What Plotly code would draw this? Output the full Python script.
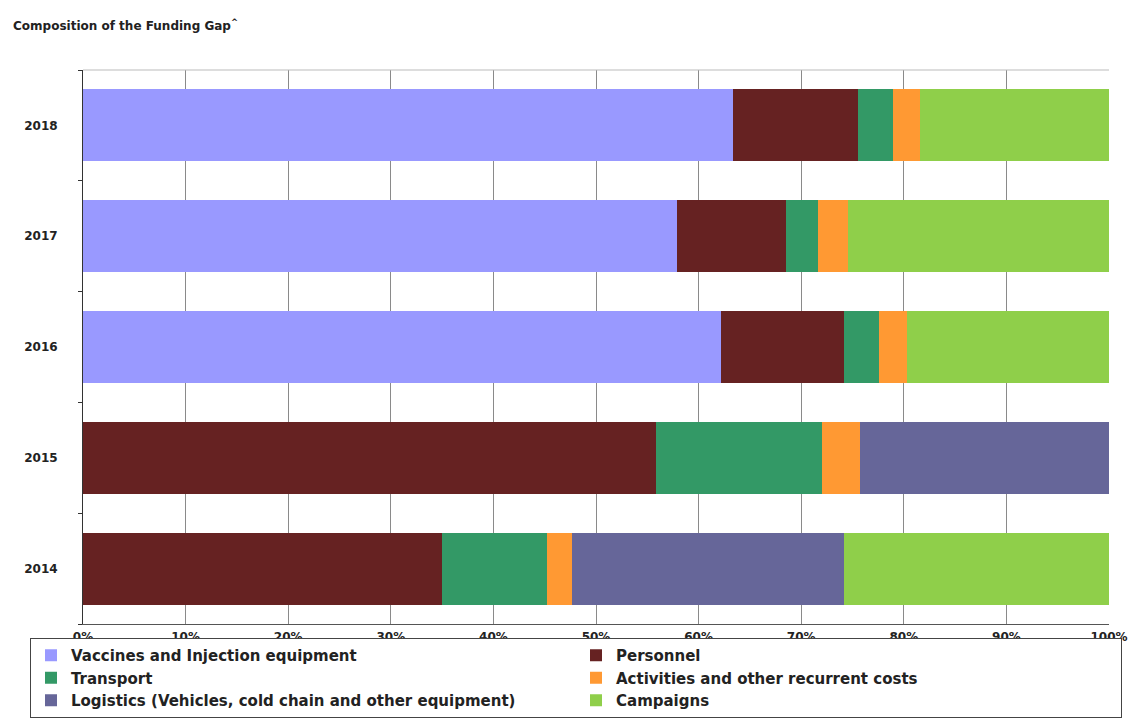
import plotly.graph_objects as go

# Funding-gap composition by year (share of total, %)
years = ["2014", "2015", "2016", "2017", "2018"]
vaccines = [0.0, 0.0, 62.2, 57.9, 63.4]
personnel = [35.0, 55.8, 12.0, 10.6, 12.1]
transport = [10.2, 16.2, 3.4, 3.1, 3.4]
activities = [2.5, 3.7, 2.7, 3.0, 2.7]
logistics = [26.5, 24.3, 0.0, 0.0, 0.0]
campaigns = [25.8, 0.0, 19.7, 25.4, 18.4]

x_ticks = [0, 10, 20, 30, 40, 50, 60, 70, 80, 90, 100]
x_tick_labels = [f"{v}%" for v in x_ticks]

series = [
    ("Vaccines and Injection equipment", vaccines, "#9999FF"),
    ("Personnel", personnel, "#662222"),
    ("Transport", transport, "#339966"),
    ("Activities and other recurrent costs", activities, "#FF9933"),
    ("Logistics (Vehicles, cold chain and other equipment)", logistics, "#666699"),
    ("Campaigns", campaigns, "#8FCF4A"),
]

FONT = "DejaVu Sans, Liberation Sans, Arial, sans-serif"
TEXT = "#222222"

fig = go.Figure()
for name, vals, color in series:
    fig.add_trace(go.Bar(
        name=name,
        y=years,
        x=vals,
        orientation="h",
        marker=dict(color=color, line=dict(width=0)),
    ))

W, H = 1141, 726
L, R, T, B = 83, 32, 70, 102

fig.update_layout(
    width=W,
    height=H,
    barmode="stack",
    bargap=0.35,
    paper_bgcolor="white",
    plot_bgcolor="white",
    margin=dict(l=L, r=R, t=T, b=B, autoexpand=False),
    font=dict(family=FONT, color=TEXT, size=12),
    title=dict(
        text="<b>Composition of the Funding Gap<sup>^</sup></b>",
        x=13 / W,
        xanchor="left",
        xref="container",
        y=1 - 26 / H,
        yanchor="middle",
        yref="container",
        font=dict(family=FONT, size=12, color=TEXT),
    ),
    xaxis=dict(
        range=[0, 100],
        tickvals=x_ticks,
        ticktext=x_tick_labels,
        showgrid=True,
        gridcolor="#8a8a8a",
        gridwidth=1,
        showline=True,
        linecolor="#555555",
        linewidth=1,
        ticks="",
        ticklabelstandoff=2,
        tickfont=dict(family=FONT, size=12, color=TEXT, weight="bold"),
        zeroline=False,
        fixedrange=True,
    ),
    yaxis=dict(
        categoryorder="array",
        categoryarray=years,
        showline=True,
        linecolor="#333333",
        linewidth=1,
        ticks="outside",
        tickson="boundaries",
        ticklen=4,
        tickcolor="#333333",
        ticklabelstandoff=22,
        tickfont=dict(family=FONT, size=12, color=TEXT, weight="bold"),
        showgrid=False,
        fixedrange=True,
    ),
    legend=dict(
        orientation="h",
        x=(30 - L) / (W - L - R),
        xanchor="left",
        y=(H - B - 638) / (H - T - B),
        yanchor="top",
        entrywidth=500,
        entrywidthmode="pixels",
        bgcolor="white",
        bordercolor="#444444",
        borderwidth=1,
        traceorder="normal",
        font=dict(family=FONT, size=15, color=TEXT, weight="bold"),
        itemclick=False,
        itemdoubleclick=False,
    ),
    showlegend=True,
)

# light frame line along the top of the plotting area
fig.add_shape(type="line", xref="paper", yref="paper", x0=0, x1=1, y0=1, y1=1,
              line=dict(color="#bbbbbb", width=1))

fig.write_html("out.html")
